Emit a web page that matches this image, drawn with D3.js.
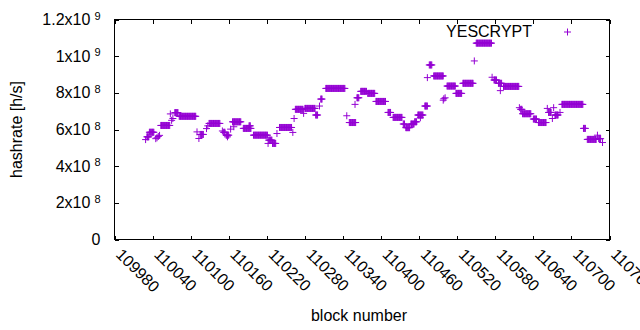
<!DOCTYPE html>
<html><head><meta charset="utf-8">
<script src="https://cdn.jsdelivr.net/npm/d3@7"></script>
<style>
body{margin:0;background:#fff}
svg{display:block}
text{font-family:"Liberation Sans",Arial,sans-serif}
</style>
</head><body>
<svg id="chart" width="640" height="330"></svg>
<script>
// ---- data ----
const seriesName = "YESCRYPT";
const xTitle = "block number";
const yTitle = "hashrate [h/s]";
const xTicks = [109980,110040,110100,110160,110220,110280,110340,110400,110460,110520,110580,110640,110700,110760];
const yTicks = [0,2e8,4e8,6e8,8e8,1e9,1.2e9];
// runs of consecutive blocks sharing the same hashrate estimate (one point per block)
const runFirstBlock = [110029,110031,110035,110045,110047,110049,110051,110053,110068,110070,110072,110075,110082,110110,110113,110115,110125,110127,110129,110150,110152,110156,110158,110163,110166,110168,110183,110192,110199,110222,110223,110229,110236,110240,110261,110263,110265,110278,110280,110297,110303,110305,110313,110346,110350,110359,110362,110368,110379,110392,110411,110419,110435,110439,110447,110453,110458,110462,110469,110473,110476,110483,110498,110499,110501,110504,110518,110529,110547,110550,110575,110578,110585,110588,110593,110618,110620,110623,110640,110648,110662,110664,110670,110672,110674,110682,110685,110719,110725,110741,110743,110749];
const runLastBlock  = [110029,110034,110042,110045,110047,110049,110051,110067,110068,110070,110072,110080,110108,110110,110113,110120,110125,110127,110146,110150,110154,110160,110158,110163,110179,110168,110195,110194,110221,110222,110228,110234,110236,110259,110261,110263,110277,110278,110296,110300,110303,110307,110343,110346,110360,110359,110365,110377,110390,110407,110415,110433,110437,110445,110452,110456,110466,110462,110473,110473,110480,110498,110498,110499,110501,110517,110527,110545,110547,110574,110575,110582,110590,110588,110617,110618,110622,110636,110645,110660,110662,110668,110670,110672,110679,110682,110718,110722,110739,110741,110746,110749];
const runHashrate   = [5.45e8,5.6e8,5.85e8,5.5e8,5.55e8,5.62e8,5.68e8,6.22e8,6.85e8,6.5e8,6.6e8,6.92e8,6.72e8,5.87e8,5.51e8,5.73e8,6.05e8,6.2e8,6.33e8,5.92e8,5.85e8,5.69e8,5.6e8,6.02e8,6.42e8,6.15e8,6.06e8,6.2e8,5.69e8,5.24e8,5.42e8,5.24e8,5.78e8,6.11e8,5.84e8,6.6e8,7.1e8,6.88e8,7.15e8,6.79e8,7.28e8,7.66e8,8.24e8,6.75e8,6.38e8,7.37e8,7.73e8,8.08e8,7.97e8,7.53e8,6.93e8,6.66e8,6.3e8,6.1e8,6.3e8,6.42e8,6.79e8,6.64e8,7.28e8,8.83e8,9.52e8,8.92e8,7.6e8,7.68e8,7.73e8,8.37e8,7.97e8,8.52e8,9.74e8,10.71e8,8.85e8,8.7e8,8.52e8,8.12e8,8.35e8,7.19e8,7.1e8,6.86e8,6.57e8,6.38e8,7.15e8,6.93e8,6.6e8,7.19e8,6.79e8,6.93e8,7.37e8,6.06e8,5.46e8,5.69e8,5.5e8,5.29e8];

// ---- layout ----
const W = 640, H = 330;
const L = 114.5, R = 609.5, T = 19.5, B = 239.5;
const color = "#9400d3";
const fontSize = 16;

const svg = d3.select("#chart");
svg.append("rect").attr("width", W).attr("height", H).attr("fill", "#fff");

const x = d3.scaleLinear().domain([xTicks[0], xTicks[xTicks.length-1]]).range([L, R]);
const y = d3.scaleLinear().domain([0, 1.2e9]).range([B, T]);

// expand runs into one point per block
const points = [];
runFirstBlock.forEach((f, i) => {
  for (let b = f; b <= runLastBlock[i]; b++) points.push({block: b, rate: runHashrate[i]});
});

function styleAxis(g) {
  g.attr("font-family", null).attr("font-size", null);
  g.select(".domain").remove();
  g.selectAll("line").attr("stroke", "#000").attr("shape-rendering", "crispEdges");
}

// bottom axis with rotated labels
const gx = svg.append("g").attr("transform", `translate(0,${B})`)
  .call(d3.axisBottom(x).tickValues(xTicks).tickSize(-4).tickSizeOuter(0).tickFormat(d3.format("d")));
styleAxis(gx);
gx.selectAll("text")
  .attr("y", 0).attr("dy", null)
  .attr("text-anchor", "start")
  .attr("dominant-baseline", "hanging")
  .attr("fill", "#000")
  .style("font-size", fontSize + "px")
  .attr("transform", "translate(8,8) rotate(45)");

// top mirror ticks
const gt = svg.append("g").attr("transform", `translate(0,${T})`)
  .call(d3.axisTop(x).tickValues(xTicks).tickSize(-4).tickSizeOuter(0).tickFormat(""));
styleAxis(gt);

// left axis
const gy = svg.append("g").attr("transform", `translate(${L},0)`)
  .call(d3.axisLeft(y).tickValues(yTicks).tickSize(-4).tickSizeOuter(0).tickFormat(""));
styleAxis(gy);
gy.selectAll(".tick").each(function(d) {
  const t = d3.select(this).append("text")
    .attr("x", 100.5 - L).attr("y", 5)
    .attr("text-anchor", "end").attr("fill", "#000")
    .style("font-size", fontSize + "px");
  if (d === 0) { t.text("0"); return; }
  const e = Math.floor(Math.log10(d) + 1e-9);
  const m = +(d / Math.pow(10, e)).toFixed(3);
  t.append("tspan").text(m + "x10");
  t.append("tspan").attr("dx", 4).attr("dy", -5.5).style("font-size", "11px").text(e);
});

// right mirror ticks
const gr = svg.append("g").attr("transform", `translate(${R},0)`)
  .call(d3.axisRight(y).tickValues(yTicks).tickSize(-4).tickSizeOuter(0).tickFormat(""));
styleAxis(gr);

// frame
svg.append("rect").attr("x", L).attr("y", T).attr("width", R - L).attr("height", B - T)
  .attr("fill", "none").attr("stroke", "#000").attr("stroke-width", 1).attr("shape-rendering", "crispEdges");

// points
const plus = (px, py, s) => `M${px - s},${py}H${px + s}M${px},${py - s}V${py + s}`;
svg.append("g").selectAll("path").data(points).join("path")
  .attr("d", d => plus(x(d.block), y(d.rate), 3.5))
  .attr("stroke", color).attr("stroke-width", 1).attr("fill", "none");

// legend
svg.append("text").attr("x", 532).attr("y", 37).attr("text-anchor", "end")
  .style("font-size", fontSize + "px").attr("fill", "#000").text(seriesName);
svg.append("path").attr("d", plus(567.5, 32, 3.5)).attr("stroke", color).attr("stroke-width", 1).attr("fill", "none");

// axis titles
svg.append("text").attr("x", 359).attr("y", 321).attr("text-anchor", "middle")
  .style("font-size", fontSize + "px").attr("fill", "#000").text(xTitle);
svg.append("text").attr("transform", `translate(21.5,${(T + B) / 2}) rotate(-90)`).attr("text-anchor", "middle")
  .style("font-size", fontSize + "px").attr("fill", "#000").text(yTitle);
</script>
</body></html>
